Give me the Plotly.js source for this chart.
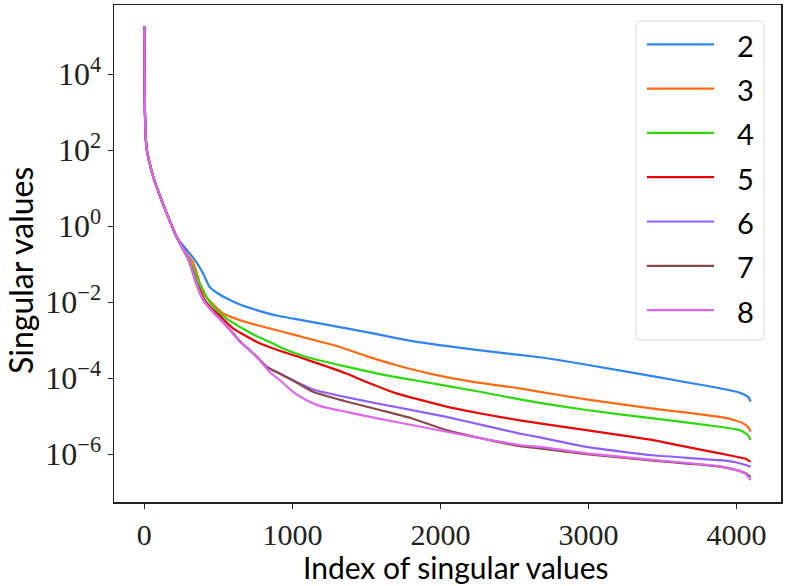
<!DOCTYPE html>
<html>
<head>
<meta charset="utf-8">
<script src="https://cdn.plot.ly/plotly-3.0.1.min.js"></script>
<style>html,body{margin:0;padding:0;background:#fff;}#chart{width:787px;height:586px;}</style>
</head>
<body>
<div id="chart"></div>
<script>
// Shared head of all curves (index, singular value)
const headIdx = [0, 1, 2, 4, 8, 15, 30, 60, 100, 160, 220];
const headVal = [1.82e5, 2.51e4, 6.31e3, 1.0e3, 2.82e2, 1.12e2, 5.62e1, 2.0e1, 7.08, 1.78, 0.50];

// Series tails
const idx2 = [307, 360, 396, 441, 500, 554, 650, 757, 900, 1100, 1320, 1500, 1800, 2085, 2400, 2671, 2807, 3257, 3707, 3850, 4000, 4050, 4080, 4095];
const val2 = [0.191, 0.1, 5.75e-2, 2.51e-2, 1.66e-2, 1.26e-2, 8.51e-3, 6.17e-3, 4.37e-3, 3.16e-3, 2.19e-3, 1.62e-3, 9.55e-4, 6.61e-4, 4.68e-4, 3.55e-4, 2.95e-4, 1.48e-4, 7.24e-5, 5.75e-5, 4.37e-5, 3.72e-5, 3.16e-5, 2.40e-5];

const idx3 = [290, 328, 362, 385, 407, 450, 531, 650, 757, 914, 1100, 1320, 1500, 1703, 1950, 2220, 2536, 2671, 2986, 3436, 3887, 4000, 4045, 4080, 4095];
const val3 = [0.178, 0.112, 4.68e-2, 2.09e-2, 1.51e-2, 1.0e-2, 5.01e-3, 3.31e-3, 2.51e-3, 1.74e-3, 1.12e-3, 6.61e-4, 3.80e-4, 2.19e-4, 1.26e-4, 7.94e-5, 5.37e-5, 4.37e-5, 2.75e-5, 1.58e-5, 9.55e-6, 7.59e-6, 6.46e-6, 5.01e-6, 3.89e-6];

const idx4 = [300, 350, 396, 419, 486, 560, 644, 750, 869, 937, 1100, 1365, 1600, 1815, 2266, 2536, 2671, 2986, 3436, 3887, 4000, 4045, 4080, 4095];
const val4 = [0.141, 5.01e-2, 2.09e-2, 1.38e-2, 6.17e-3, 3.55e-3, 2.24e-3, 1.32e-3, 8.13e-4, 6.03e-4, 3.55e-4, 2.0e-4, 1.26e-4, 8.91e-5, 4.37e-5, 2.75e-5, 2.24e-5, 1.45e-5, 8.71e-6, 5.25e-6, 4.47e-6, 3.89e-6, 3.02e-6, 2.34e-6];

const idx5 = [300, 350, 400, 450, 520, 599, 680, 757, 914, 1049, 1274, 1365, 1500, 1703, 2041, 2300, 2536, 2671, 2986, 3436, 3662, 3887, 4000, 4060, 4095];
const val5 = [0.126, 3.55e-2, 1.26e-2, 7.08e-3, 3.98e-3, 2.04e-3, 1.32e-3, 9.12e-4, 5.25e-4, 3.55e-4, 1.78e-4, 1.32e-4, 7.94e-5, 3.98e-5, 1.78e-5, 1.12e-5, 7.76e-6, 6.46e-6, 4.27e-6, 2.34e-6, 1.55e-6, 1.05e-6, 8.51e-7, 7.59e-7, 6.31e-7];

const idx6 = [300, 350, 400, 450, 550, 650, 750, 824, 914, 1000, 1139, 1300, 1590, 1725, 2041, 2300, 2536, 2671, 2986, 3436, 3887, 4000, 4095];
const val6 = [0.132, 3.16e-2, 1.12e-2, 6.31e-3, 2.51e-3, 8.91e-4, 3.98e-4, 2.0e-4, 1.32e-4, 8.91e-5, 5.01e-5, 3.55e-5, 2.09e-5, 1.66e-5, 9.55e-6, 5.62e-6, 3.47e-6, 2.75e-6, 1.55e-6, 9.33e-7, 6.92e-7, 6.03e-7, 4.68e-7];

const idx7 = [300, 350, 400, 450, 550, 650, 750, 824, 914, 1000, 1139, 1350, 1590, 1800, 2041, 2200, 2378, 2536, 2671, 2986, 3436, 3887, 4000, 4060, 4095];
const val7 = [0.132, 3.16e-2, 1.12e-2, 6.31e-3, 2.51e-3, 8.91e-4, 3.98e-4, 2.0e-4, 1.32e-4, 8.91e-5, 4.37e-5, 2.51e-5, 1.45e-5, 8.91e-6, 4.27e-6, 3.02e-6, 2.14e-6, 1.62e-6, 1.41e-6, 1.0e-6, 6.76e-7, 4.68e-7, 3.80e-7, 3.16e-7, 2.51e-7];

const idx8 = [300, 350, 400, 450, 550, 650, 750, 850, 914, 1004, 1095, 1200, 1365, 1600, 1815, 2266, 2536, 2671, 2986, 3436, 3887, 4000, 4060, 4095];
const val8 = [0.132, 3.16e-2, 1.12e-2, 6.31e-3, 2.51e-3, 8.91e-4, 3.98e-4, 1.41e-4, 8.91e-5, 4.37e-5, 2.63e-5, 1.78e-5, 1.29e-5, 8.32e-6, 5.75e-6, 2.63e-6, 1.74e-6, 1.55e-6, 1.05e-6, 7.08e-7, 4.79e-7, 3.80e-7, 3.02e-7, 2.09e-7];

const seriesNames = ['2', '3', '4', '5', '6', '7', '8'];
const seriesColors = ['#2f84f0', '#ff6a10', '#2bd90b', '#e8050a', '#9060ff', '#8b4a4a', '#e066f0'];
const seriesIdx = [idx2, idx3, idx4, idx5, idx6, idx7, idx8];
const seriesVal = [val2, val3, val4, val5, val6, val7, val8];

const yTickVals = [1e-6, 1e-4, 1e-2, 1e0, 1e2, 1e4];
const yTickText = ['10<sup>−6</sup>', '10<sup>−4</sup>', '10<sup>−2</sup>', '10<sup>0</sup>', '10<sup>2</sup>', '10<sup>4</sup>'];
const xTickVals = [0, 1000, 2000, 3000, 4000];
const xTitle = 'Index of singular values';
const yTitle = 'Singular values';

const traces = seriesNames.map((n, i) => ({
  type: 'scatter', mode: 'lines', name: n,
  x: headIdx.concat(seriesIdx[i]),
  y: headVal.concat(seriesVal[i]),
  line: {color: seriesColors[i], width: 2.2, shape: 'spline', smoothing: 0.5},
  showlegend: false
}));

// Pixel geometry of plot area
const L = 114, R = 781, T = 5, B = 502;
const px = v => (v - L) / (R - L);
const py = v => (B - v) / (B - T);
const shapes = [];
const sansFont = 'Lato, "DejaVu Sans", sans-serif';
const annotations = [
  {xref: 'paper', yref: 'paper', x: px(456), y: py(567), text: xTitle, showarrow: false, xanchor: 'center', yanchor: 'middle', font: {family: sansFont, size: 30, color: '#000'}},
  {xref: 'paper', yref: 'paper', x: px(20), y: py(271), text: yTitle, showarrow: false, textangle: -90, xanchor: 'center', yanchor: 'middle', font: {family: sansFont, size: 32, color: '#000'}}
];
// Legend frame with rounded corners
(function(){
  const x0 = px(636), x1 = px(764), y0 = py(340), y1 = py(21);
  const rx = 5 / (R - L), ry = 5 / (B - T);
  const path = `M ${x0+rx},${y1} L ${x1-rx},${y1} Q ${x1},${y1} ${x1},${y1-ry} L ${x1},${y0+ry} Q ${x1},${y0} ${x1-rx},${y0} L ${x0+rx},${y0} Q ${x0},${y0} ${x0},${y0+ry} L ${x0},${y1-ry} Q ${x0},${y1} ${x0+rx},${y1} Z`;
  shapes.push({type: 'path', xref: 'paper', yref: 'paper', path: path, line: {color: '#d8dcdc', width: 1}, fillcolor: 'rgba(255,255,255,0.8)', layer: 'above'});
})();
seriesNames.forEach((n, i) => {
  const yy = 44.3 + 44.3 * i;
  shapes.push({type: 'line', xref: 'paper', yref: 'paper', x0: px(647), x1: px(714), y0: py(yy), y1: py(yy), line: {color: seriesColors[i], width: 2.2}, layer: 'above'});
  annotations.push({xref: 'paper', yref: 'paper', x: px(745), y: py(yy + 1), text: n, showarrow: false, xanchor: 'center', yanchor: 'middle', font: {family: sansFont, size: 29, color: '#000'}});
});

const layout = {
  width: 787, height: 586,
  margin: {l: L, r: 787 - R, t: T, b: 586 - B, pad: 0},
  paper_bgcolor: '#fff', plot_bgcolor: '#fff',
  showlegend: false,
  xaxis: {
    range: [-205, 4300], tickmode: 'array', tickvals: xTickVals,
    ticks: 'outside', ticklen: 5, tickwidth: 1.2, tickcolor: '#222',
    showline: true, mirror: true, linecolor: '#222', linewidth: 1.5,
    showgrid: false, zeroline: false,
    tickfont: {family: '"Liberation Serif", "DejaVu Serif", serif', size: 30, color: '#222'}
  },
  yaxis: {
    type: 'log', range: [-7.26, 5.82], tickmode: 'array', tickvals: yTickVals, ticktext: yTickText,
    ticks: 'outside', ticklen: 5, tickwidth: 1.2, tickcolor: '#222',
    showline: true, mirror: true, linecolor: '#222', linewidth: 1.5,
    showgrid: false, zeroline: false,
    tickfont: {family: '"Liberation Serif", "DejaVu Serif", serif', size: 32, color: '#222'}
  },
  shapes: shapes,
  annotations: annotations
};

Plotly.newPlot('chart', traces, layout, {displayModeBar: false, staticPlot: true});
</script>
</body>
</html>
